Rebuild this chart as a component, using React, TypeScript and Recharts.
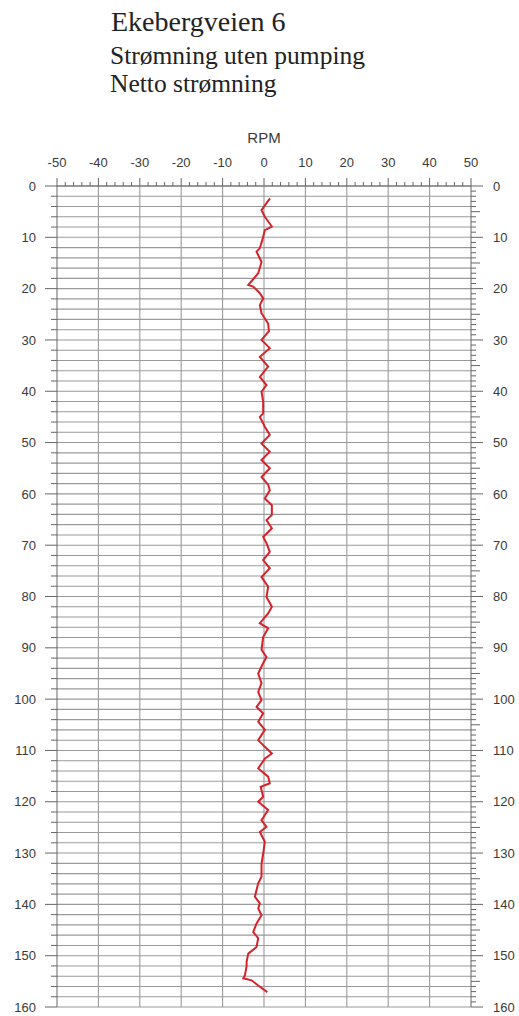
import React from 'react';
import { LineChart, Line, XAxis, YAxis, CartesianGrid, ReferenceLine } from 'recharts';

const depth = [
  2.4, 4.7, 6.0, 7.9, 8.6, 10.5, 12.1, 12.8, 14.8, 17.0, 19.3, 19.6, 20.9, 21.9, 23.2, 24.8,
  26.8, 28.3, 30.0, 31.6, 33.3, 35.2, 37.2, 38.8, 40.1, 42.0, 44.3, 45.0, 46.9, 48.5, 50.2,
  51.8, 53.4, 55.0, 56.7, 58.2, 59.3, 60.9, 62.2, 64.1, 65.1, 66.7, 68.4, 69.6, 71.3, 72.9,
  74.5, 76.2, 78.1, 80.1, 82.0, 83.3, 85.2, 86.2, 87.9, 90.4, 91.8, 93.3, 95.0, 96.9, 98.6,
  100.2, 101.5, 102.8, 104.4, 106.0, 108.0, 109.3, 110.6, 111.6, 113.5, 115.1, 116.4, 117.1,
  119.0, 120.0, 121.6, 123.6, 124.9, 125.9, 127.8, 130.1, 132.1, 134.6, 135.9, 138.5, 139.8,
  140.8, 142.1, 143.7, 145.4, 146.6, 148.3, 149.6, 151.2, 152.0, 153.8, 154.4, 154.8, 155.8,
  157.1,
];
const rpm = [
  1.45, -0.6, 0.2, 1.9, 0.2, -0.4, -1.0, -1.8, -0.6, -1.4, -3.8, -2.6, -1.0, -0.2, -1.0, -0.6,
  1.0, 1.2, -0.6, 1.4, -1.0, 1.0, -1.0, 0.6, -0.6, -0.2, -0.2, -1.0, 0.2, 1.4, -0.6,
  1.4, -0.6, 1.4, -0.6, 1.0, 1.4, 0.2, 1.9, 1.9, 0.6, 1.9, -0.2, 0.6, 1.4, -0.2,
  1.4, -0.6, 1.0, 0.6, 1.9, 1.0, -1.0, 1.0, -0.2, -0.6, 0.6, -0.4, -1.4, -0.6, -1.4,
  -0.6, -1.8, -0.2, -1.4, 0.2, -1.4, 0.2, 1.9, 0.2, -1.4, 1.0, 1.4, -0.8,
  -0.2, -1.4, 1.0, -0.6, 0.6, -1.0, 0.2, -0.2, -0.6, -0.6, -1.4, -2.2, -1.0,
  -1.4, -0.6, -1.8, -2.6, -1.4, -1.8, -3.8, -4.2, -4.2, -4.6, -5.0, -3.0, -1.4,
  0.8,
];

const rpmLabels = [-50, -40, -30, -20, -10, 0, 10, 20, 30, 40, 50];
const depthLabels = [0, 10, 20, 30, 40, 50, 60, 70, 80, 90, 100, 110, 120, 130, 140, 150, 160];
const gridRpm = [-40, -30, -20, -10, 0, 10, 20, 30, 40];

const rpmTicks = Array.from({ length: 51 }, (_, i) => -50 + i * 2);
const depthTicks = Array.from({ length: 81 }, (_, i) => i * 2);
const depthTicksFine = Array.from({ length: 161 }, (_, i) => i);

const data = depth.map((d, i) => ({ depth: d, rpm: rpm[i] }));

const AXIS = '#666';
const LABEL = '#3a3a3a';
const font = '"Liberation Sans", Arial, sans-serif';

const TopTick = (props: any) => {
  const { x, y, payload } = props;
  const major = rpmLabels.includes(payload.value);
  return (
    <g>
      <line x1={x} x2={x} y1={y} y2={y - (major ? 8 : 4)} stroke={AXIS} />
      {major && (
        <text x={x} y={y - 19.5} textAnchor="middle" fontSize={13} fontFamily={font} fill={LABEL}>
          {payload.value}
        </text>
      )}
    </g>
  );
};

const LeftTick = (props: any) => {
  const { x, y, payload } = props;
  const major = depthLabels.includes(payload.value);
  return (
    <g>
      <line x1={x} x2={x - (major ? 12 : 6)} y1={y} y2={y} stroke={AXIS} />
      {major && (
        <text x={x - 21} y={y} dy="0.36em" textAnchor="end" fontSize={13} fontFamily={font} fill={LABEL}>
          {payload.value}
        </text>
      )}
    </g>
  );
};

const RightTick = (props: any) => {
  const { x, y, payload } = props;
  const v = payload.value;
  const major = depthLabels.includes(v);
  const len = major ? 12 : v % 5 === 0 ? 9 : 5;
  return (
    <g>
      <line x1={x} x2={x + len} y1={y} y2={y} stroke={AXIS} />
      {major && (
        <text x={x + 22} y={y} dy="0.36em" textAnchor="start" fontSize={13} fontFamily={font} fill={LABEL}>
          {v}
        </text>
      )}
    </g>
  );
};

export default function App() {
  return (
    <div style={{ position: 'absolute', left: 0, top: 0, width: 519, height: 1016, background: '#fff' }}>
      <svg width={519} height={140} style={{ position: 'absolute', left: 0, top: 0 }}>
        <text x={111} y={31} fontSize={28} fontFamily='"Liberation Serif", serif' fill="#222">
          Ekebergveien 6
        </text>
        <text x={110} y={64} fontSize={25.5} fontFamily='"Liberation Serif", serif' fill="#222">
          Strømning uten pumping
        </text>
        <text x={110} y={92} fontSize={25.5} fontFamily='"Liberation Serif", serif' fill="#222">
          Netto strømning
        </text>
      </svg>
      <div style={{ position: 'absolute', left: 0, top: 0 }}>
        <LineChart
          width={519}
          height={1016}
          layout="vertical"
          data={data}
          margin={{ top: 126, left: 7, right: 3, bottom: 9 }}
        >
          <CartesianGrid yAxisId="left" vertical={false} stroke="#9a9a9a" strokeWidth={1.1} />
          <XAxis
            type="number"
            orientation="top"
            dataKey="rpm"
            domain={[-50, 50]}
            ticks={rpmTicks}
            interval={0}
            height={60}
            tickSize={0}
            tickMargin={0}
            tickLine={false}
            axisLine={{ stroke: AXIS }}
            tick={<TopTick />}
            label={{ value: 'RPM', position: 'insideTop', offset: 6, fontSize: 15, fontFamily: font, fill: LABEL }}
          />
          <YAxis
            yAxisId="left"
            type="number"
            dataKey="depth"
            domain={[0, 160]}
            ticks={depthTicks}
            interval={0}
            width={50}
            tickSize={0}
            tickMargin={0}
            tickLine={false}
            axisLine={{ stroke: AXIS }}
            tick={<LeftTick />}
          />
          <YAxis
            yAxisId="right"
            orientation="right"
            type="number"
            dataKey="depth"
            domain={[0, 160]}
            ticks={depthTicksFine}
            interval={0}
            width={45}
            tickSize={0}
            tickMargin={0}
            tickLine={false}
            axisLine={{ stroke: AXIS }}
            tick={<RightTick />}
          />
          {gridRpm.map((v) => (
            <ReferenceLine key={v} x={v} yAxisId="left" stroke="#9a9a9a" strokeWidth={1.1} />
          ))}
          <Line
            yAxisId="left"
            dataKey="rpm"
            stroke="#d4232b"
            strokeWidth={2}
            dot={false}
            isAnimationActive={false}
          />
        </LineChart>
      </div>
    </div>
  );
}
